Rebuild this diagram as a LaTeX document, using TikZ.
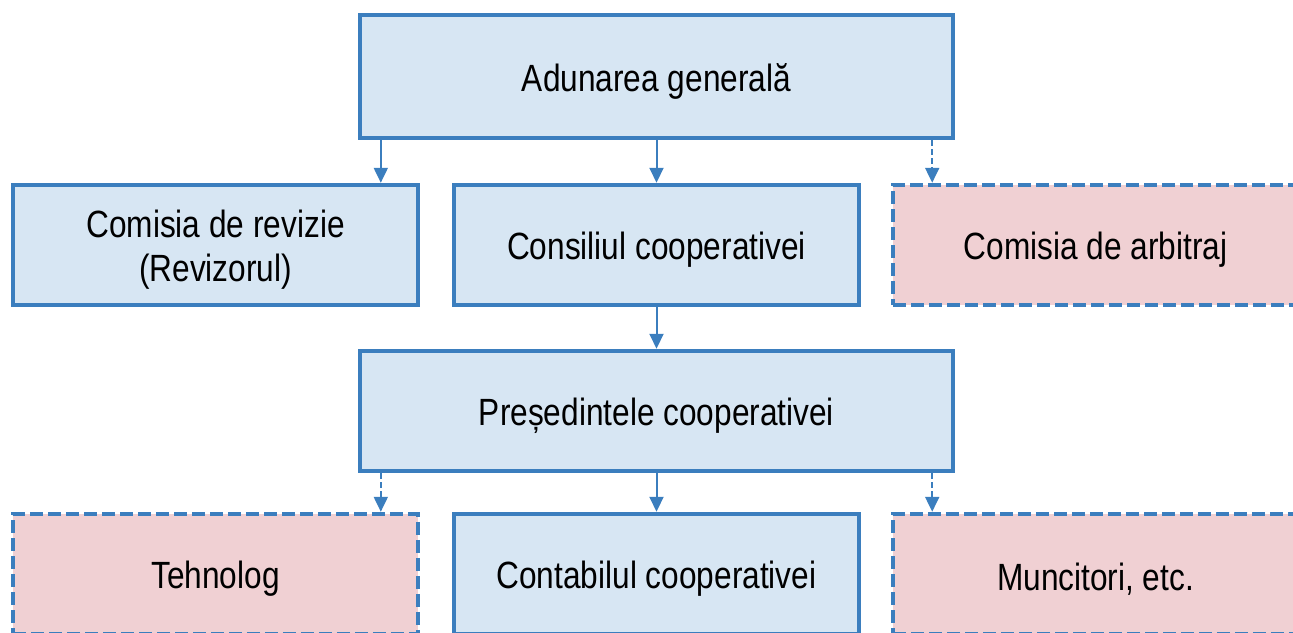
\documentclass[tikz,border=0pt]{standalone}
\usepackage{fontspec}
\setmainfont{Liberation Sans}
\usetikzlibrary{arrows.meta}
\definecolor{rimblue}{HTML}{3B7EBE}
\definecolor{paleblue}{HTML}{D7E6F3}
\definecolor{palerose}{HTML}{F0D0D3}
\newcommand{\tallword}[1]{\raisebox{-0.1cm}[\height][\depth]{\scalebox{1}[1.2]{#1}}}
\begin{document}
\begin{tikzpicture}[x=0.02cm, y=-0.02cm,
  organ/.style={rectangle, draw=rimblue, fill=paleblue, line width=0.09cm, minimum height=2.4cm, inner sep=0pt, align=center, font=\fontsize{18}{25}\selectfont},
  wide/.style={organ, minimum width=11.86cm},
  narrow/.style={organ, minimum width=8.1cm},
  optional/.style={narrow, fill=palerose, dash pattern=on 0.26cm off 0.1cm},
  link/.style={draw=rimblue, line width=0.04cm, -{Triangle[width=0.28cm, length=0.3cm]}},
  maylink/.style={link, dash pattern=on 0.12cm off 0.06cm}]

       \clip (0,0) rectangle (1293,632);

       % conducere
       \node[wide, minimum height=2.46cm] (adunare) at (656.5,76.5) {\tallword{Adunarea generală}};
       \node[narrow] (revizie) at (215.5,245) {\tallword{Comisia de revizie}\\\tallword{(Revizorul)}};
       \node[narrow] (consiliu) at (656.5,245) {\tallword{Consiliul cooperativei}};
       \node[optional] (arbitraj) at (1095.5,245) {\tallword{Comisia de arbitraj}};
       \node[wide] (presedinte) at (656.5,411) {\tallword{Președintele cooperativei}};

       % personal
       \node[optional] (tehnolog) at (215.5,574) {\tallword{Tehnolog}};
       \node[narrow] (contabil) at (656.5,574) {\tallword{Contabilul cooperativei}};
       \node[optional] (muncitori) at (1095.5,574) {\tallword{Muncitori, etc.}};

       \coordinate (adunare-l) at ([xshift=0.46cm]adunare.south west);
       \coordinate (adunare-r) at ([xshift=-0.46cm]adunare.south east);
       \coordinate (presedinte-l) at ([xshift=0.46cm]presedinte.south west);
       \coordinate (presedinte-r) at ([xshift=-0.46cm]presedinte.south east);

       \draw[link] (adunare-l) -- (adunare-l |- revizie.north);
       \draw[link] (adunare) -- (consiliu);
       \draw[maylink] (adunare-r) -- (adunare-r |- arbitraj.north);
       \draw[link] (consiliu) -- (presedinte);
       \draw[maylink] (presedinte-l) -- (presedinte-l |- tehnolog.north);
       \draw[link] (presedinte) -- (contabil);
       \draw[maylink] (presedinte-r) -- (presedinte-r |- muncitori.north);
\end{tikzpicture}
\end{document}
